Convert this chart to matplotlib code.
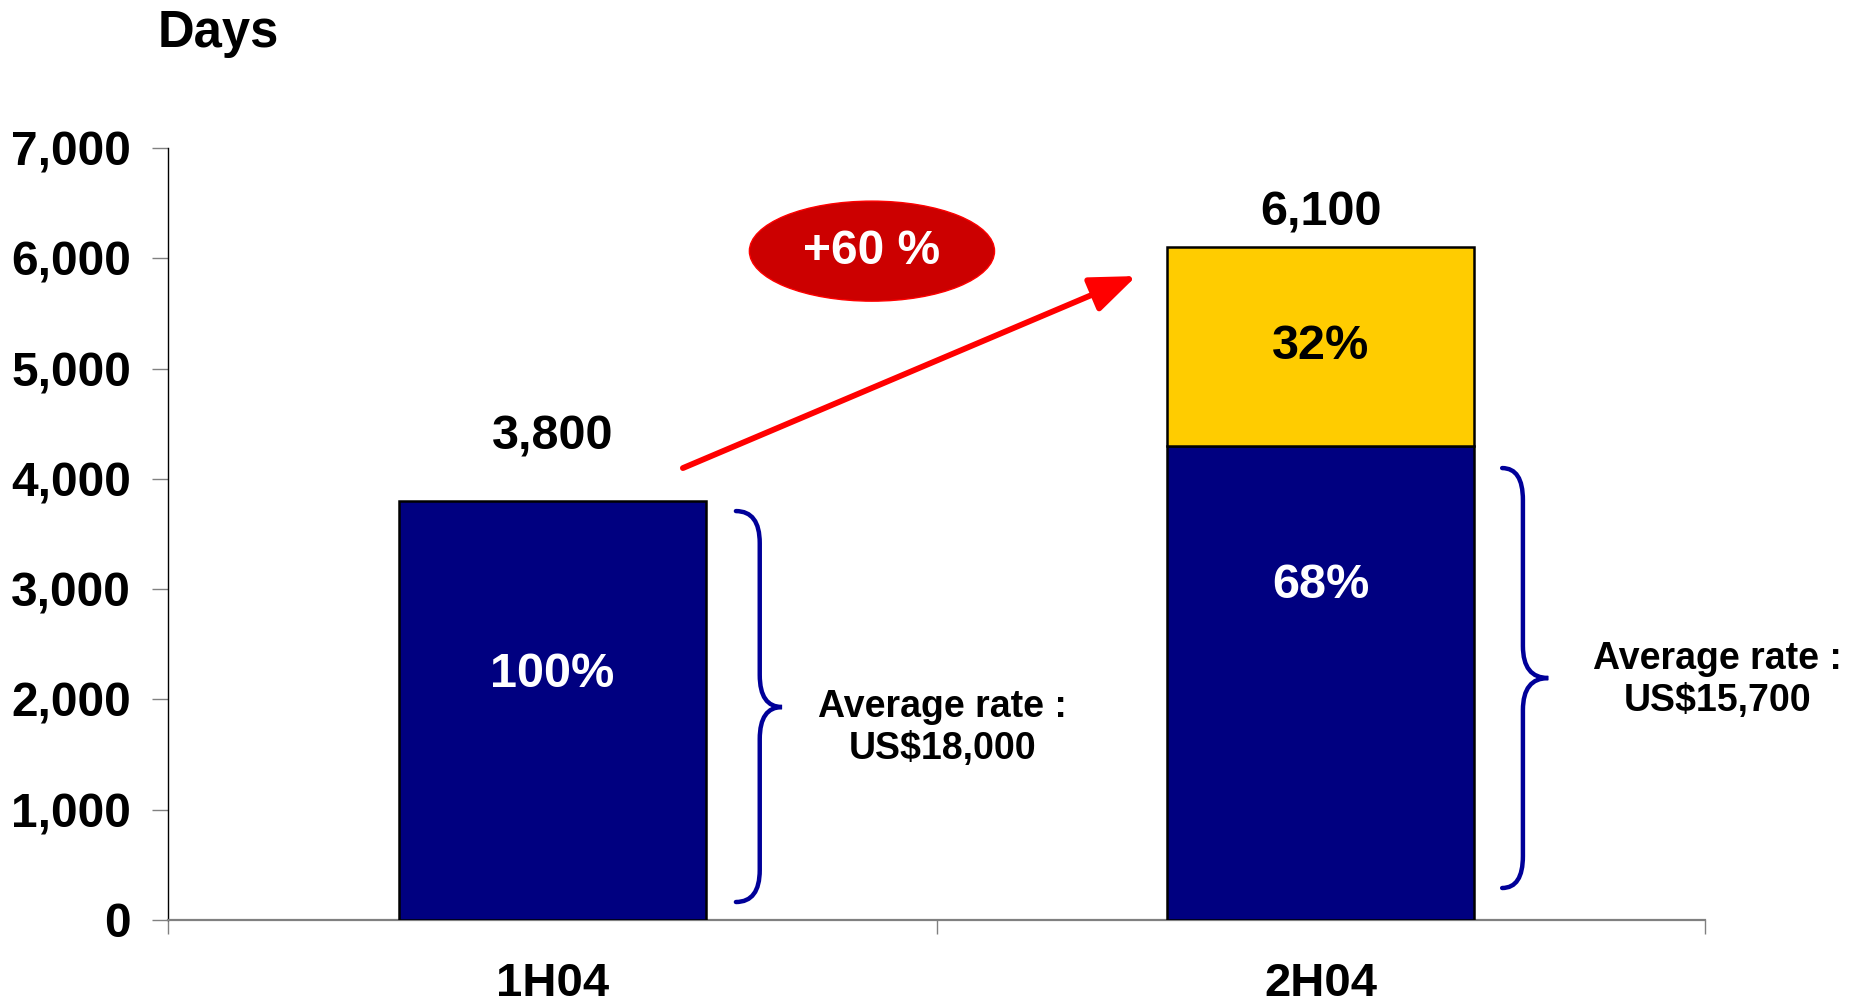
import numpy as np
import matplotlib
matplotlib.use('Agg')
import matplotlib.pyplot as plt
from matplotlib.patches import Ellipse, FancyArrowPatch, PathPatch
from matplotlib.path import Path
from matplotlib.ticker import FuncFormatter, FixedLocator

plt.rcParams['font.family'] = ['Liberation Sans', 'DejaVu Sans']
plt.rcParams['font.weight'] = 'bold'

# chart data
periods = ['1H04', '2H04']
base_days = [3800, 4300]
extra_days = [0, 1800]
total_days = [3800, 6100]
base_share = ['100%', '68%']
extra_share = ['', '32%']
avg_rate = ['US$18,000', 'US$15,700']
growth_label = '+60 %'

# layout bits
navy = '#000080'
gold = '#FFCC00'
brace_blue = '#000099'
bar_w = 0.4
total_offset_pt = [46, 25]
base_label_y = [2230, 3030]
extra_label_y = [5200, 5200]

fig = plt.figure(figsize=(18.6, 10.07), dpi=100)
ax = fig.add_axes([0.0903, 0.0864, 0.8264, 0.7666])

x = np.arange(len(periods))
ax.bar(x, base_days, width=bar_w, color=navy, edgecolor='black', linewidth=1.8, zorder=3)
has_extra = np.array(extra_days) > 0
ax.bar(x[has_extra], np.array(extra_days)[has_extra], bottom=np.array(base_days)[has_extra],
       width=bar_w, color=gold, edgecolor='black', linewidth=1.8, zorder=3)

for i in range(len(periods)):
    ax.annotate(f'{total_days[i]:,}', (x[i], total_days[i]), xytext=(0, total_offset_pt[i]),
                textcoords='offset points', ha='center', va='center', fontsize=35, fontweight='bold')
    ax.text(x[i], base_label_y[i], base_share[i], ha='center', va='center',
            fontsize=35, fontweight='bold', color='white', zorder=4)
    if extra_share[i]:
        ax.text(x[i], extra_label_y[i], extra_share[i], ha='center', va='center',
                fontsize=35, fontweight='bold', color='black', zorder=4)


def brace(ax, x0, xs, x1, y_bot, y_top, y_tip, r):
    verts = [(x0, y_top), (xs, y_top), (xs, y_top - r),
             (xs, y_tip + r), (xs, y_tip), (x1, y_tip),
             (xs, y_tip), (xs, y_tip - r),
             (xs, y_bot + r), (xs, y_bot), (x0, y_bot)]
    codes = [Path.MOVETO, Path.CURVE3, Path.CURVE3,
             Path.LINETO, Path.CURVE3, Path.CURVE3,
             Path.CURVE3, Path.CURVE3,
             Path.LINETO, Path.CURVE3, Path.CURVE3]
    ax.add_patch(PathPatch(Path(verts, codes), fill=False, edgecolor=brace_blue,
                           linewidth=3.2, capstyle='round', clip_on=False, zorder=4))


brace(ax, 0.239, 0.270, 0.299, 163, 3708, 1931, 290)
brace(ax, 1.236, 1.263, 1.296, 290, 4098, 2194, 290)

ax.text(0.508, 1741, 'Average rate :\n' + avg_rate[0], ha='center', va='center',
        fontsize=27, fontweight='bold', linespacing=1.2)
ax.text(1.516, 2176, 'Average rate :\n' + avg_rate[1], ha='center', va='center',
        fontsize=27, fontweight='bold', linespacing=1.2, clip_on=False)

# growth arrow and bubble
ax.add_patch(FancyArrowPatch((0.170, 4098), (0.760, 5839),
                             arrowstyle='-|>,head_length=28,head_width=11', mutation_scale=1,
                             color='#FF0000', linewidth=4.2, shrinkA=0, shrinkB=0, zorder=5))
ax.add_patch(Ellipse((0.416, 6065), 0.319, 907, facecolor='#CC0000',
                     edgecolor='#FF0000', linewidth=1, zorder=5))
ax.text(0.416, 6065, growth_label, ha='center', va='center', color='white',
        fontsize=34.5, fontweight='bold', zorder=6)

# axes
ax.set_xlim(-0.5, 1.5)
ax.set_ylim(0, 7000)
ax.set_yticks(np.arange(0, 7001, 1000))
ax.yaxis.set_major_formatter(FuncFormatter(lambda v, p: f'{v:,.0f}'))
ax.set_xticks(x)
ax.set_xticklabels(periods)
ax.xaxis.set_minor_locator(FixedLocator([-0.5, 0.5, 1.5]))
ax.tick_params(axis='y', length=11.5, width=1, color='#808080', pad=15, labelsize=34.5)
ax.tick_params(axis='x', which='major', length=0, pad=30, labelsize=34)
ax.tick_params(axis='x', which='minor', length=10, width=1, color='#808080')
for lab in ax.get_xticklabels() + ax.get_yticklabels():
    lab.set_fontweight('bold')

ax.spines['top'].set_visible(False)
ax.spines['right'].set_visible(False)
ax.spines['left'].set_color('black')
ax.spines['left'].set_linewidth(1)
ax.spines['bottom'].set_color('#808080')
ax.spines['bottom'].set_linewidth(1.6)

fig.text(0.085, 1 - 47 / 1007, 'Days', ha='left', va='baseline', fontsize=36.5, fontweight='bold')

fig.savefig('out.png', dpi=100)
